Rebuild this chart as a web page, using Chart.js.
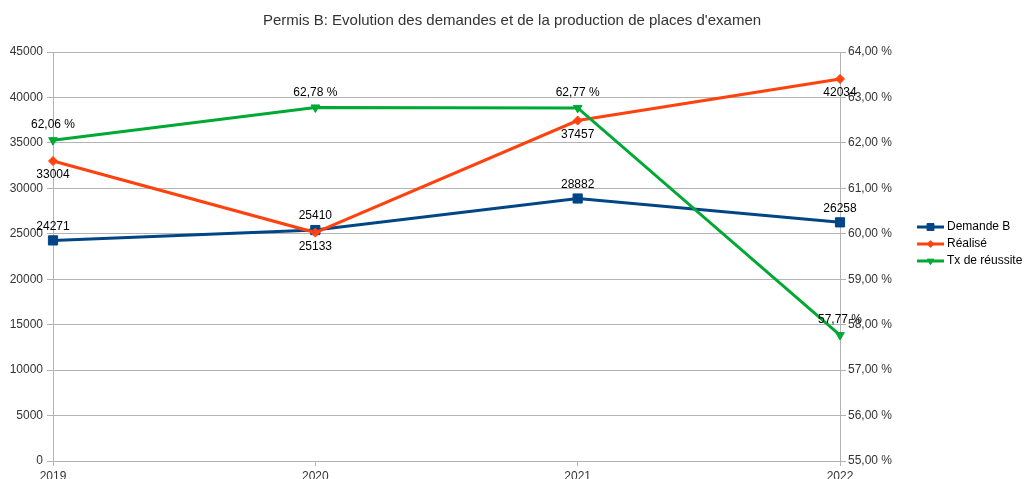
<!DOCTYPE html>
<html>
<head>
<meta charset="utf-8">
<script src="https://cdn.jsdelivr.net/npm/chart.js@4/dist/chart.umd.min.js"></script>
<style>
  body { margin: 0; background: #fff; }
  #wrap { width: 1024px; height: 479px; }
</style>
</head>
<body>
<div id="wrap"><canvas id="chart" width="1024" height="479"></canvas></div>
<script>
const years = ['2019', '2020', '2021', '2022'];
const demande = [24271, 25410, 28882, 26258];
const realise = [33004, 25133, 37457, 42034];
const tauxReussite = [62.06, 62.78, 62.77, 57.77];

const BLUE = '#004586';
const ORANGE = '#ff420e';
const GREEN = '#00a933';
const GRID = '#b3b3b3';
const FONT = 'Liberation Sans, Arial, sans-serif';

Chart.defaults.font.family = FONT;
Chart.defaults.font.size = 12;
Chart.defaults.color = '#333';

function formatPct(v) {
    return v.toFixed(2).replace('.', ',') + ' %';
}

// data labels: offset above (-) or below (+) the point
const labelOffsets = { 0: -14, 1: 14, 2: -15 };

const dataLabels = {
    id: 'dataLabels',
    afterDatasetsDraw(chart) {
        const ctx = chart.ctx;
        ctx.save();
        ctx.font = '12px ' + FONT;
        ctx.fillStyle = '#000';
        ctx.textAlign = 'center';
        ctx.textBaseline = 'middle';
        chart.data.datasets.forEach((ds, i) => {
            const meta = chart.getDatasetMeta(i);
            meta.data.forEach((pt, j) => {
                const v = ds.data[j];
                const txt = ds.yAxisID === 'y1' ? formatPct(v) : String(v);
                ctx.fillText(txt, pt.x, pt.y + labelOffsets[i]);
            });
        });
        ctx.restore();
    }
};

const sideLegend = {
    id: 'sideLegend',
    afterDraw(chart) {
        const ctx = chart.ctx;
        ctx.save();
        ctx.font = '12px ' + FONT;
        ctx.textBaseline = 'middle';
        ctx.textAlign = 'left';
        chart.data.datasets.forEach((ds, i) => {
            const y = 227 + i * 17;
            ctx.strokeStyle = ds.borderColor;
            ctx.lineWidth = 3;
            ctx.beginPath();
            ctx.moveTo(917, y);
            ctx.lineTo(944, y);
            ctx.stroke();
            ctx.fillStyle = ds.pointBackgroundColor;
            ctx.strokeStyle = ds.pointBackgroundColor;
            ctx.lineWidth = 1;
            Chart.helpers.drawPoint(ctx, {
                pointStyle: ds.pointStyle,
                radius: ds.pointRadius * 0.75,
                rotation: ds.pointRotation || 0,
                borderWidth: 1
            }, 930.5, y);
            ctx.fillStyle = '#000';
            ctx.fillText(ds.label, 947, y);
        });
        ctx.restore();
    }
};

new Chart(document.getElementById('chart'), {
    type: 'line',
    data: {
        labels: years,
        datasets: [
            {
                label: 'Demande B',
                data: demande,
                yAxisID: 'y',
                borderColor: BLUE,
                backgroundColor: BLUE,
                pointBackgroundColor: BLUE,
                pointBorderColor: BLUE,
                pointStyle: 'rect',
                pointRadius: 6.5,
                pointBorderWidth: 1,
                borderWidth: 3,
                order: 3
            },
            {
                label: 'Réalisé',
                data: realise,
                yAxisID: 'y',
                borderColor: ORANGE,
                backgroundColor: ORANGE,
                pointBackgroundColor: ORANGE,
                pointBorderColor: ORANGE,
                pointStyle: 'rectRot',
                pointRadius: 4.5,
                pointBorderWidth: 1,
                borderWidth: 3,
                order: 2
            },
            {
                label: 'Tx de réussite',
                data: tauxReussite,
                yAxisID: 'y1',
                borderColor: GREEN,
                backgroundColor: GREEN,
                pointBackgroundColor: GREEN,
                pointBorderColor: GREEN,
                pointStyle: 'triangle',
                pointRotation: 180,
                pointRadius: 5,
                pointBorderWidth: 1,
                borderWidth: 3,
                order: 1
            }
        ]
    },
    options: {
        responsive: false,
        animation: false,
        layout: { padding: 0 },
        plugins: {
            legend: { display: false },
            tooltip: { enabled: false },
            title: {
                display: true,
                text: "Permis B: Evolution des demandes et de la production de places d'examen",
                color: '#333',
                font: { size: 15, weight: 'normal', family: FONT },
                padding: { top: 12, bottom: 22 }
            }
        },
        scales: {
            x: {
                offset: false,
                grid: { drawOnChartArea: false, drawTicks: true, tickLength: 5, color: GRID },
                border: { display: true, color: GRID },
                ticks: { padding: 3, maxRotation: 0, autoSkip: false },
                afterFit(scale) { scale.height = 18; }
            },
            y: {
                position: 'left',
                min: 0,
                max: 45000,
                grid: { color: GRID, tickLength: 6 },
                border: { display: true, color: GRID },
                ticks: { stepSize: 5000, padding: 4, callback: v => String(v) },
                afterFit(scale) { scale.width = 53; }
            },
            y1: {
                position: 'right',
                min: 55,
                max: 64,
                grid: { drawOnChartArea: false, tickLength: 6, color: GRID },
                border: { display: true, color: GRID },
                ticks: { stepSize: 1, padding: 2, callback: v => formatPct(v) },
                afterFit(scale) { scale.width = 184; }
            }
        }
    },
    plugins: [dataLabels, sideLegend]
});
</script>
</body>
</html>
